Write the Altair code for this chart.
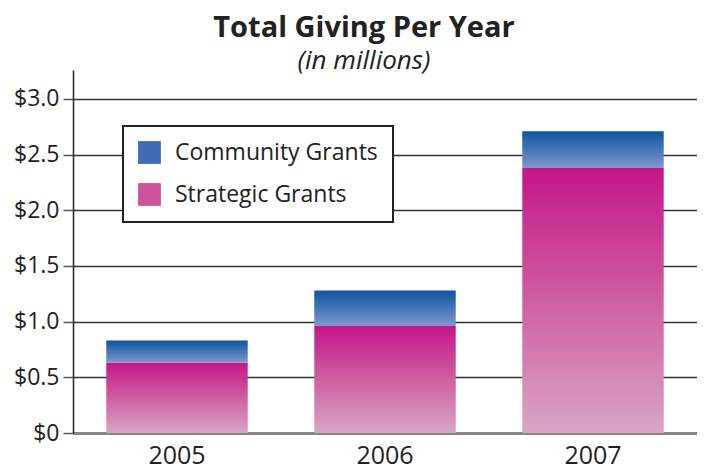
import altair as alt
import pandas as pd

years = ["2005", "2006", "2007"]
strategic = [0.63, 0.96, 2.38]
community = [0.20, 0.32, 0.33]
series = ["Community Grants", "Strategic Grants"]
series_colors = ["#3f6cb2", "#d0529c"]
tick_values = [0, 0.5, 1.0, 1.5, 2.0, 2.5, 3.0]

df = pd.DataFrame({
    "year": years,
    "strategic": strategic,
    "community": community,
})
df["total"] = df["strategic"] + df["community"]

legend_df = pd.DataFrame({"year": [years[0]] * 2, "series": series})

magenta = alt.LinearGradient(
    gradient="linear", x1=0, y1=0, x2=0, y2=1,
    stops=[alt.GradientStop(color="#c4168a", offset=0),
           alt.GradientStop(color="#cf5fa0", offset=0.5),
           alt.GradientStop(color="#d9a5c6", offset=1)],
)
blue = alt.LinearGradient(
    gradient="linear", x1=0, y1=0, x2=0, y2=1,
    stops=[alt.GradientStop(color="#0d549f", offset=0),
           alt.GradientStop(color="#7f97cd", offset=1)],
)

font = "Open Sans"

x_enc = alt.X(
    "year:N", title=None, sort=years,
    scale=alt.Scale(paddingInner=0.32, paddingOuter=0.16),
    axis=alt.Axis(labelAngle=0, labelFontSize=25, labelFont=font, labelColor="#222",
                  ticks=False, domainColor="#888", domainWidth=3, labelPadding=10),
)

y_axis = alt.Axis(
    values=tick_values, title=None,
    labelExpr="datum.value == 0 ? '$0' : '$' + format(datum.value, '.1f')",
    labelFontSize=23, labelFont=font, labelColor="#222", labelPadding=4,
    tickSize=10, tickColor="#555", tickWidth=1.5,
    gridColor={"condition": {"test": "datum.value == 0", "value": "#888"}, "value": "#333"},
    gridWidth={"condition": {"test": "datum.value == 0", "value": 3}, "value": 1.5},
    domainColor="#222", domainWidth=1.5,
)

base = alt.Chart(df)

strat = base.mark_bar(fill=magenta).encode(
    x=x_enc,
    y=alt.Y("strategic:Q", scale=alt.Scale(domain=[0, 3.26], nice=False), axis=y_axis),
)
comm = base.mark_bar(fill=blue).encode(
    x=x_enc,
    y=alt.Y("strategic:Q"),
    y2="total:Q",
)

legend_layer = alt.Chart(legend_df).mark_square(opacity=0).encode(
    x=alt.X("year:N", sort=years),
    color=alt.Color(
        "series:N",
        scale=alt.Scale(domain=series, range=series_colors),
        legend=alt.Legend(
            title=None, orient="none", legendX=50, legendY=56,
            symbolType="square", symbolSize=520, symbolStrokeWidth=0,
            symbolOpacity=1,
            labelFontSize=23, labelFont=font, labelColor="#222", labelOffset=14,
            padding=15, fillColor="white",
            strokeColor="#222", labelLimit=300,
        ),
    ),
)

chart = alt.layer(strat, comm, legend_layer).properties(
    width=624, height=363,
    padding={"left": 65, "top": 62, "right": 0, "bottom": 40},
    autosize=alt.AutoSizeParams(type="none"),
    title=alt.TitleParams(
        text="Total Giving Per Year", subtitle="(in millions)",
        fontSize=29, fontWeight="bold", font=font, color="#222",
        subtitleFontSize=26, subtitleFontStyle="italic", subtitleFont=font,
        subtitleColor="#222", anchor="middle", dx=-21, offset=-4, subtitlePadding=5,
    ),
).configure_view(stroke=None).configure_legend(rowPadding=18, strokeWidth=2)

chart.save("out.html", embed_options={"renderer": "svg", "actions": False})
